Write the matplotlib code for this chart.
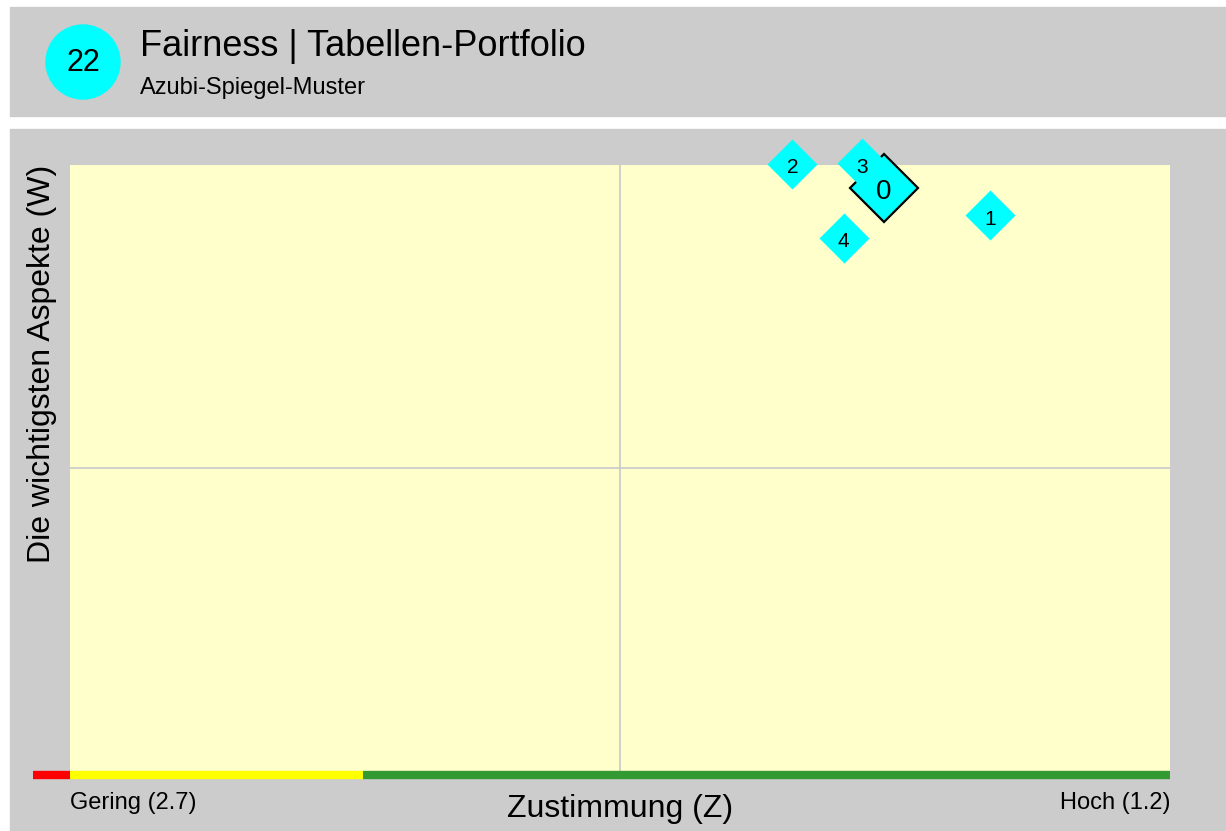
import matplotlib
matplotlib.use("Agg")
import matplotlib.pyplot as plt
from matplotlib.patches import Rectangle, Ellipse

plt.rcParams['font.family'] = ['Liberation Sans', 'DejaVu Sans']

# Daten
labels = ['0', '1', '2', '3', '4']
zustimmung = [1.59, 1.445, 1.715, 1.62, 1.645]   # Z (1.2 = hoch, 2.7 = gering)
wichtigkeit = [0.962, 0.917, 1.002, 1.003, 0.880]  # W
x_links, x_rechts = 2.7, 1.2
zonen = [(2.75, 2.7, '#ff0000'), (2.7, 2.3, '#ffff00'), (2.3, 1.2, '#339933')]

titel = 'Fairness | Tabellen-Portfolio'
untertitel = 'Azubi-Spiegel-Muster'
nummer = '22'

W, H = 1226, 831
fig = plt.figure(figsize=(W / 100, H / 100), dpi=100)
fig.patch.set_facecolor('white')

# graue Flaechen
fig.patches.append(Rectangle((10 / W, (H - 116) / H), (W - 10) / W, 109 / H,
                             transform=fig.transFigure, color='#cccccc', zorder=0))
fig.patches.append(Rectangle((10 / W, 0), (W - 10) / W, (H - 129) / H,
                             transform=fig.transFigure, color='#cccccc', zorder=0))
fig.patches.append(Ellipse((83 / W, (H - 62) / H), 74 / W, 74 / H,
                           transform=fig.transFigure, color='#00ffff', zorder=1))
fig.text(83 / W, (H - 63) / H, nummer, ha='center', va='center', fontsize=22)
fig.text(140 / W, (H - 46) / H, titel, ha='left', va='center', fontsize=26)
fig.text(140 / W, (H - 88) / H, untertitel, ha='left', va='center', fontsize=17)

ax = fig.add_axes([70 / W, 60 / H, 1100 / W, 606 / H])
ax.set_zorder(2)
ax.set_facecolor('#ffffcc')
ax.set_xlim(x_links, x_rechts)
ax.set_ylim(0, 1)
for s in ax.spines.values():
    s.set_visible(False)
ax.set_xticks([])
ax.set_yticks([])
ax.axvline((x_links + x_rechts) / 2, color='#c8c8cc', lw=1.2, zorder=1)
ax.axhline(0.5, color='#c8c8cc', lw=1.2, zorder=1)

# Farbband unten
for a, b, c in zonen:
    ax.plot([a, b], [-0.007, -0.007], color=c, lw=6, solid_capstyle='butt',
            clip_on=False, zorder=3)

# Punkte: 0 = Gesamt, gross mit Rand
ax.plot(zustimmung[0], wichtigkeit[0], marker='D', ms=35, mfc='#00ffff',
        mec='black', mew=1.6, ls='none', clip_on=False, zorder=4)
for i in range(1, len(labels)):
    ax.plot(zustimmung[i], wichtigkeit[i], marker='D', ms=25, mfc='#00ffff',
            mec='none', ls='none', clip_on=False, zorder=5)
for i, lab in enumerate(labels):
    ax.annotate(lab, (zustimmung[i], wichtigkeit[i]), xytext=(0, -3),
                textcoords='offset points', ha='center', va='center',
                fontsize=20 if i == 0 else 15, zorder=6, annotation_clip=False)

ax.text(0, -0.053, 'Gering (2.7)', transform=ax.transAxes, ha='left', va='center', fontsize=17)
ax.text(1, -0.053, 'Hoch (1.2)', transform=ax.transAxes, ha='right', va='center', fontsize=17)
ax.text(0.5, -0.062, 'Zustimmung (Z)', transform=ax.transAxes, ha='center', va='center', fontsize=23)
fig.text(42 / W, (H - 165) / H, 'Die wichtigsten Aspekte (W)', rotation=90,
         ha='center', va='top', fontsize=23)

fig.savefig('out.png', dpi=100, facecolor='white')
